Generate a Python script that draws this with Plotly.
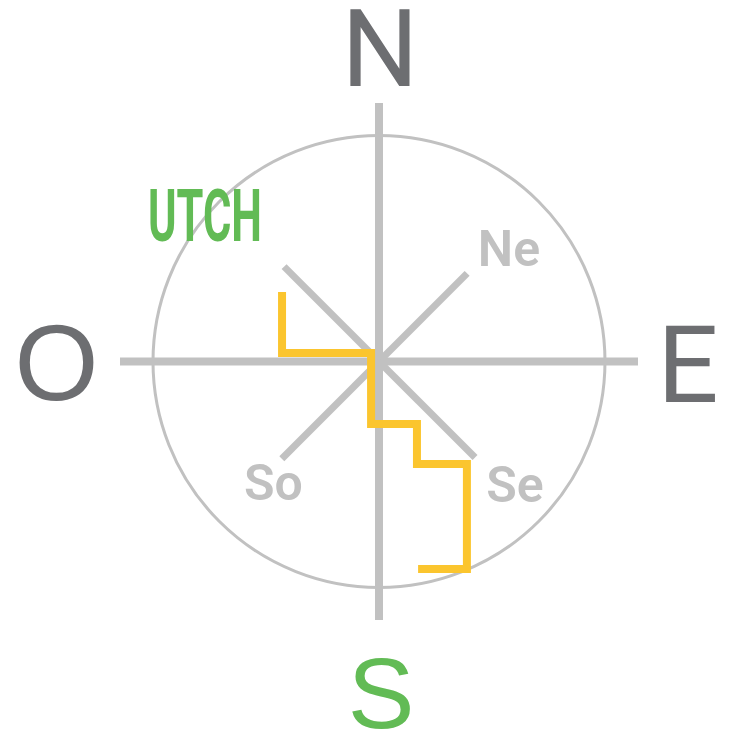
import plotly.graph_objects as go

# Compass geometry in units of the ring radius
ring_radius = 1.0
arm_x = [-1.146, 1.146]
arm_y = [-1.144, 1.144]
diag_names = ["Ne", "No", "So", "Se"]
diag_x = [0.39, -0.42, -0.43, 0.425]
diag_y = [0.39, 0.42, -0.43, -0.425]

# Route (step path)
route_x = [-0.429, -0.429, -0.035, -0.035, 0.168, 0.168, 0.389, 0.389, 0.173]
route_y = [0.308, 0.038, 0.038, -0.277, -0.277, -0.454, -0.454, -0.918, -0.918]

# Cardinal labels
ne_text = ["N", "E"]
ne_x = [0.004, 1.367]
ne_y = [1.339, -0.059]
west_text = ["O"]
west_x = [-1.427]
west_y = [-0.051]
south_text = ["S"]
south_x = [0.009]
south_y = [-1.511]

# Intercardinal labels
inter_text = ["Ne", "So", "Se"]
inter_x = [0.575, -0.467, 0.602]
inter_y = [0.479, -0.557, -0.565]

# Tag
tag_text = ["UTCH"]
tag_x = [-0.770]
tag_y = [0.615]

GRAY = "#c1c1c1"
DARK = "#6d6e71"
GREEN = "#62bb55"
YELLOW = "#fbc52e"
FONT = "Roboto, Liberation Sans, Arial, sans-serif"
FONT_ARIAL = "Liberation Sans, Arial, Helvetica, sans-serif"

fig = go.Figure()

# main arms
fig.add_trace(go.Scatter(x=arm_x, y=[0, 0], mode="lines",
                         line=dict(color=GRAY, width=8), hoverinfo="skip"))
fig.add_trace(go.Scatter(x=[0, 0], y=arm_y, mode="lines",
                         line=dict(color=GRAY, width=8), hoverinfo="skip"))
# diagonals
for dx, dy in zip(diag_x, diag_y):
    fig.add_trace(go.Scatter(x=[0, dx], y=[0, dy], mode="lines",
                             line=dict(color=GRAY, width=7), hoverinfo="skip"))

# route
fig.add_trace(go.Scatter(x=route_x, y=route_y, mode="lines",
                         line=dict(color=YELLOW, width=8), hoverinfo="skip"))

fig.add_trace(go.Scatter(x=ne_x, y=ne_y, mode="text", text=ne_text,
                         textposition="middle center", hoverinfo="skip",
                         textfont=dict(family=FONT, size=108, color=DARK)))
fig.add_trace(go.Scatter(x=west_x, y=west_y, mode="text", text=west_text,
                         textposition="middle center", hoverinfo="skip",
                         textfont=dict(family=FONT_ARIAL, size=108, color=DARK)))
fig.add_trace(go.Scatter(x=south_x, y=south_y, mode="text", text=south_text,
                         textposition="middle center", hoverinfo="skip",
                         textfont=dict(family=FONT_ARIAL, size=100, color=GREEN)))
fig.add_trace(go.Scatter(x=inter_x, y=inter_y, mode="text", text=inter_text,
                         textposition="middle center", hoverinfo="skip",
                         textfont=dict(family=FONT, size=50, color=GRAY, weight=600)))
fig.add_trace(go.Scatter(x=tag_x, y=tag_y, mode="text", text=tag_text,
                         textposition="middle center", hoverinfo="skip",
                         textfont=dict(family=FONT, size=73, color=GREEN, weight="bold")))

fig.add_shape(type="circle", xref="x", yref="y",
              x0=-ring_radius, y0=-ring_radius, x1=ring_radius, y1=ring_radius,
              line=dict(color=GRAY, width=3), layer="below")

fig.update_layout(
    width=732, height=742,
    margin=dict(l=0, r=0, t=0, b=0),
    paper_bgcolor="white", plot_bgcolor="white",
    showlegend=False,
    xaxis=dict(range=[-1.677, 1.562], visible=False, fixedrange=True),
    yaxis=dict(range=[-1.684, 1.600], visible=False, fixedrange=True),
)

# remove default page margin; condense the tag text horizontally
post_js = """
document.body.style.margin = '0';
var TAG_WIDTH = 114;
document.querySelectorAll('g.textpoint text').forEach(function(t) {
  if (t.textContent === 'UTCH') {
    var b = t.getBBox();
    var cx = b.x + b.width / 2;
    var s = TAG_WIDTH / b.width;
    t.setAttribute('transform', 'translate(' + cx + ',0) scale(' + s + ',1) translate(' + (-cx) + ',0)');
  }
});
"""

fig.write_html("out.html", post_script=post_js,
               config={"displayModeBar": False, "staticPlot": True})
